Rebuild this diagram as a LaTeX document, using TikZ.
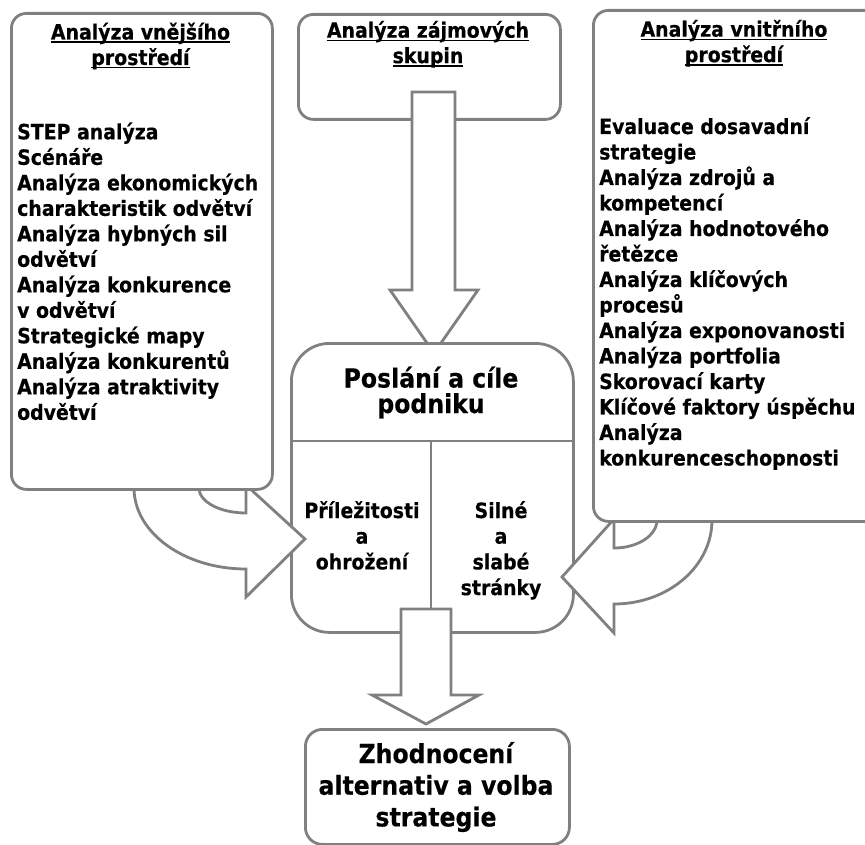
\documentclass[tikz,border=0pt]{standalone}
\usepackage{fontspec}
\setmainfont{DejaVu Sans Condensed}[BoldFeatures={FakeBold=0.4}]
\definecolor{edgegray}{RGB}{128,128,128}
\newcommand{\lstfnt}{\fontsize{21}{25.5}\selectfont\bfseries}
\newcommand{\midfnt}{\fontsize{21}{25.7}\selectfont\bfseries}
\newcommand{\bigfnt}{\fontsize{26.2}{25.5}\selectfont\bfseries}
\newcommand{\resfnt}{\fontsize{26.2}{31.7}\selectfont\bfseries}
% underline drawn at a fixed depth, crossing the descenders
\newsavebox{\ulbox}
\newcommand{\ulin}[1]{\leavevmode\sbox{\ulbox}{#1}\rlap{\usebox{\ulbox}}\rule[-3.4pt]{\wd\ulbox}{1.5pt}}

\begin{document}
\begin{tikzpicture}[x=1pt,y=-1pt,
  outline/.style={draw=edgegray, line width=2.8pt, fill=white},
  panel/.style={outline, rounded corners=15pt, inner sep=0pt, anchor=north west},
  divider/.style={draw=edgegray, line width=2.8pt},
  blockarrow/.style={outline, line join=miter},
  listtext/.style={anchor=base west, inner sep=0pt},
  heading/.style={anchor=base, inner sep=0pt},
]
\useasboundingbox (0,0) rectangle (865,845);
\clip (0,0) rectangle (865,845);

% stakeholder box and its arrow down to the mission box
\node[panel, minimum width=262pt, minimum height=105pt] (stake) at (297,13) {};
\draw[blockarrow] (412,92) -- (455,92) -- (455,290) -- (478,290)
  -- (434,353) -- (390,290) -- (412,290) -- cycle;

% mission box with its three compartments
\node[panel, rounded corners=38pt, minimum width=282pt, minimum height=289pt] (mission) at (290,342) {};
\draw[divider] (mission.west |- 0,441) -- (mission.east |- 0,441);
\draw[divider] (431,441) -- (mission.south -| 431,0);

% arrow from the mission box to the decision box
\draw[blockarrow] (401,609) -- (451,609) -- (451,695) -- (479,695)
  -- (426,724) -- (372,695) -- (401,695) -- cycle;

% curved arrow from the external analysis
\draw[blockarrow] (134,470) -- (134,488)
  arc[start angle=180, end angle=90, x radius=112, y radius=81]
  -- (246,597) -- (305,539) -- (246,485) -- (246,513)
  arc[start angle=90, end angle=180, x radius=47, y radius=25]
  -- (199,470) -- cycle;

% curved arrow from the internal analysis
\draw[blockarrow] (712,505) -- (712,520)
  arc[start angle=0, end angle=90, x radius=98, y radius=84]
  -- (614,633) -- (562,577) -- (614,519) -- (614,548)
  arc[start angle=90, end angle=0, x radius=43, y radius=28]
  -- (657,505) -- cycle;

% side panels
\node[panel, minimum width=261pt, minimum height=476pt] (ext) at (10,12) {};
\node[panel, minimum width=288pt, minimum height=511pt] (int) at (592,9) {};

% decision box
\node[panel, rounded corners=17pt, minimum width=264pt, minimum height=115pt] (result) at (304,728) {};

% headings
\node[heading] (extT) at (140.5,39.5) {\parbox[t]{260pt}{\lstfnt\centering
  \ulin{Analýza vnějšího}\\ \ulin{prostředí}}};
\node[heading] (stakeT) at (428,37.7) {\parbox[t]{260pt}{\lstfnt\centering
  \ulin{Analýza zájmových}\\ \ulin{skupin}}};
\node[heading] (intT) at (734,36.7) {\parbox[t]{270pt}{\lstfnt\centering
  \ulin{Analýza vnitřního}\\ \ulin{prostředí}}};

% lists of methods
\node[listtext] (extL) at (17,139.3) {\parbox[t]{300pt}{\lstfnt\raggedright
  STEP analýza\\
  Scénáře\\
  Analýza ekonomických\\
  charakteristik odvětví\\
  Analýza hybných sil\\
  odvětví\\
  Analýza konkurence\\
  v odvětví\\
  Strategické mapy\\
  Analýza konkurentů\\
  Analýza atraktivity\\
  odvětví}};
\node[listtext] (intL) at (599,134) {\parbox[t]{300pt}{\lstfnt\raggedright
  Evaluace dosavadní\\
  strategie\\
  Analýza zdrojů a\\
  kompetencí\\
  Analýza hodnotového\\
  řetězce\\
  Analýza klíčových\\
  procesů\\
  Analýza exponovanosti\\
  Analýza portfolia\\
  Skorovací karty\\
  Klíčové faktory úspěchu\\
  Analýza\\
  konkurenceschopnosti}};

% mission box texts
\node[heading] (missionT) at (431,387.5) {\parbox[t]{270pt}{\bigfnt\centering
  Poslání a cíle\\ podniku}};
\node[heading] (opp) at (362,518) {\parbox[t]{140pt}{\midfnt\centering
  Příležitosti\\ a\\ ohrožení}};
\node[heading] (str) at (501,518) {\parbox[t]{140pt}{\midfnt\centering
  Silné\\ a\\ slabé\\ stránky}};

% decision box text
\node[heading] (resultT) at (436,763) {\parbox[t]{260pt}{\resfnt\centering
  Zhodnocení\\ alternativ a volba\\ strategie}};
\end{tikzpicture}
\end{document}
